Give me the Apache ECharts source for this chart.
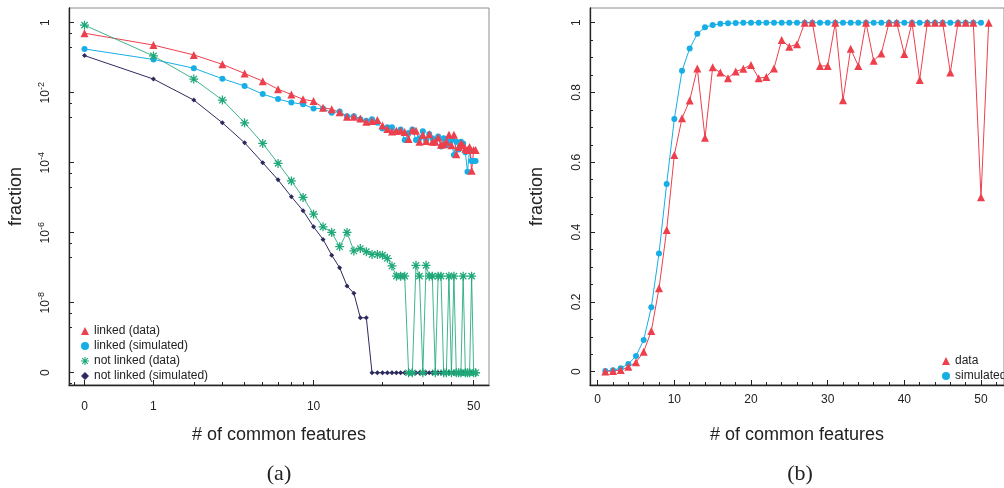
<!DOCTYPE html>
<html>
<head>
<meta charset="utf-8">
<script src="https://cdn.jsdelivr.net/npm/echarts@6/dist/echarts.min.js"></script>
<style>
  html, body { margin: 0; padding: 0; background: #fff; }
  #chart { width: 1004px; height: 488px; }
</style>
</head>
<body>
<div id="chart"></div>
<script>
// ---- panel (a): log10 of the fraction, null = fraction of 0 ----
var featuresA = [0, 1, 2, 3, 4, 5, 6, 7, 8, 9, 10, 11, 12, 13, 14, 15, 16, 17, 18, 19, 20,
  21, 22, 23, 24, 25, 26, 27, 28, 29, 30, 31, 32, 33, 34, 35, 36, 37, 38, 39, 40,
  41, 42, 43, 44, 45, 46, 47, 48, 49, 50];

var linkedDataExp = [-0.30, -0.64, -0.92, -1.19, -1.45, -1.67, -1.90, -2.05, -2.19, -2.24,
  -2.43, -2.47, -2.56, -2.69, -2.69, -2.74, -2.83, -2.81, -2.78, -2.94,
  -3.04, -3.11, -3.09, -3.09, -3.12, -3.32, -3.07, -3.09, -3.40, -3.21,
  -3.38, -3.19, -3.40, -3.40, -3.28, -3.49, -3.47, -3.40, -3.20, -3.50,
  -3.20, -3.76, -3.55, -3.45, -3.50, -3.60, -3.64, -3.55, -4.23, -3.64, -3.64];

var linkedSimExp = [-0.75, -1.05, -1.30, -1.60, -1.81, -2.04, -2.18, -2.28, -2.33, -2.45,
  -2.45, -2.57, -2.54, -2.67, -2.67, -2.76, -2.80, -2.76, -2.86, -3.02,
  -2.99, -2.99, -3.12, -3.05, -3.35, -3.15, -3.05, -3.35, -3.30, -3.10,
  -3.35, -3.18, -3.30, -3.35, -3.25, -3.54, -3.30, -3.50, -3.40, -3.35,
  -3.78, -3.40, -3.62, -3.40, -3.45, -3.70, -4.26, -3.62, -3.95, -3.95, -3.95];

var notLinkedDataExp = [-0.07, -0.95, -1.61, -2.21, -2.86, -3.45, -4.02, -4.52, -4.99, -5.47,
  -5.83, -5.99, -6.40, -5.99, -6.52, -6.45, -6.54, -6.62, -6.62, -6.64,
  -6.73, -6.95, -7.24, -7.24, -7.24, null, null, -6.93, -7.24, null,
  -6.93, -7.24, -7.24, null, -7.24, -7.24, null, null, -7.24, null,
  -7.24, null, null, null, -7.24, null, null, null, -7.24, null, null];

var notLinkedSimExp = [-0.94, -1.61, -2.21, -2.86, -3.43, -4.00, -4.49, -4.97, -5.37, -5.83,
  -6.19, -6.64, -7.00, -7.52, -7.73, -8.43, -8.43, null, null, null,
  null, null, null, null, null, null, null, null, null, null,
  null, null, null, null, null, null, null, null, null, null,
  null, null, null, null, null, null, null, null, null, null, null];

// ---- panel (b): fraction ----
var featuresB = [1, 2, 3, 4, 5, 6, 7, 8, 9, 10, 11, 12, 13, 14, 15, 16, 17, 18, 19, 20,
  21, 22, 23, 24, 25, 26, 27, 28, 29, 30, 31, 32, 33, 34, 35, 36, 37, 38, 39, 40,
  41, 42, 43, 44, 45, 46, 47, 48, 49, 50, 51];

var dataFrac = [0.001, 0.002, 0.005, 0.014, 0.027, 0.057, 0.117, 0.239, 0.406, 0.621,
  0.726, 0.777, 0.869, 0.670, 0.872, 0.857, 0.841, 0.860, 0.868, 0.879,
  0.841, 0.844, 0.869, 0.950, 0.931, 0.938, 1, 1, 0.876, 0.876,
  1, 0.778, 0.925, 0.876, 1, 0.891, 0.912, 1, 1, 0.910,
  1, 0.836, 1, 1, 1, 0.857, 1, 1, 1, 0.500, 1];

var simulatedFrac = [0.002, 0.004, 0.010, 0.022, 0.045, 0.091, 0.185, 0.339, 0.538, 0.724,
  0.862, 0.926, 0.968, 0.987, 0.993, 0.997, 0.998, 0.999, 1, 1,
  1, 1, 1, 1, 1, 1, 1, 1, 1, 1,
  1, 1, 1, 1, 1, 1, 1, 1, 1, 1,
  1, 1, 1, 1, 1, 1, 1, 1, 1, 1];

// ---- ticks ----
var aXTickAt = [1, 2, 10, 50];          // features + 1, on a log axis
var aXTickText = ['0', '1', '10', '50'];
var aXMinorAt = [0.9, 3, 4, 5, 6, 7, 8, 9, 20, 30, 40];
var aYTickExp = [0, -2, -4, -6, -8, -10];
var bXTicks = [0, 10, 20, 30, 40, 50];
var bXMinor = [-2, 2, 4, 6, 8, 12, 14, 16, 18, 22, 24, 26, 28, 32, 34, 36, 38, 42, 44, 46, 48, 52];
var bYTicks = [0, 0.2, 0.4, 0.6, 0.8, 1];
var bYMinor = [0.05, 0.1, 0.15, 0.25, 0.3, 0.35, 0.45, 0.5, 0.55, 0.65, 0.7, 0.75, 0.85, 0.9, 0.95];

var ZERO_EXP = -10;   // where a fraction of 0 is drawn
var RED = '#ee3f4c', BLUE = '#17aee6', GREEN = '#1fa878', NAVY = '#2d2b5e';
var INK = '#222';
var STAR = 'path://M0,4.3L10,4.3L10,5.7L0,5.7Z M4.3,0L5.7,0L5.7,10L4.3,10Z M1,2L2,1L9,8L8,9Z M8,1L9,2L2,9L1,8Z';

function toA(exps) {
  return exps.map(function (v, i) {
    return [Math.log10(featuresA[i] + 1), v === null ? ZERO_EXP : v];
  });
}
function toB(vals) {
  return vals.map(function (v, i) { return [featuresB[i], v]; });
}

var aYMinor = [];
aYTickExp.forEach(function (m) {
  aYMinor.push(m + Math.log10(0.5), m + Math.log10(0.2));
});

var lineAxis = { onZero: false, lineStyle: { color: INK, width: 1.3 } };
var noLine = { show: false, onZero: false };

function majorTick(vals) {
  return { inside: true, length: 5, customValues: vals, lineStyle: { color: INK, width: 1 } };
}
function minorTick(vals) {
  return { inside: true, length: 3, customValues: vals, lineStyle: { color: INK, width: 1 } };
}

var myChart = echarts.init(document.getElementById('chart'));

var option = {
  animation: false,
  textStyle: { fontFamily: 'Liberation Sans, Arial, sans-serif' },
  grid: [
    { left: 69, top: 8, width: 420, height: 377, show: true, borderColor: '#8c8c8c', borderWidth: 1 },
    { left: 590, top: 8, width: 420, height: 377, show: true, borderColor: '#8c8c8c', borderWidth: 1 }
  ],
  xAxis: [
    {
      type: 'value', gridIndex: 0, position: 'bottom', min: -0.0677, max: 1.766,
      axisLine: lineAxis, splitLine: { show: false },
      axisTick: majorTick(aXTickAt.map(function (k) { return Math.log10(k); })),
      axisLabel: {
        customValues: aXTickAt.map(function (k) { return Math.log10(k); }),
        fontSize: 12, color: INK, margin: 16,
        formatter: function (v) {
          for (var i = 0; i < aXTickAt.length; i++) {
            if (Math.abs(Math.log10(aXTickAt[i]) - v) < 1e-6) return aXTickText[i];
          }
          return '';
        }
      },
      name: '# of common features', nameLocation: 'middle', nameGap: 41,
      nameTextStyle: { fontSize: 18, color: INK }
    },
    {
      type: 'value', gridIndex: 0, position: 'bottom', min: -0.0677, max: 1.766,
      axisLine: noLine, splitLine: { show: false }, axisLabel: { show: false },
      axisTick: minorTick(aXMinorAt.map(function (k) { return Math.log10(k); }))
    },
    {
      type: 'value', gridIndex: 1, position: 'bottom', min: -1, max: 53,
      axisLine: lineAxis, splitLine: { show: false },
      axisTick: majorTick(bXTicks),
      axisLabel: { customValues: bXTicks, fontSize: 12, color: INK, margin: 9 },
      name: '# of common features', nameLocation: 'middle', nameGap: 41,
      nameTextStyle: { fontSize: 18, color: INK }
    },
    {
      type: 'value', gridIndex: 1, position: 'bottom', min: -1, max: 53,
      axisLine: noLine, splitLine: { show: false }, axisLabel: { show: false },
      axisTick: minorTick(bXMinor)
    }
  ],
  yAxis: [
    {
      type: 'value', gridIndex: 0, position: 'left', min: -10.35, max: 0.42,
      axisLine: lineAxis, splitLine: { show: false },
      axisTick: majorTick(aYTickExp),
      axisLabel: {
        customValues: aYTickExp, rotate: 90, margin: 14, color: INK,
        formatter: function (v) {
          if (v === 0) return '{b|1}';
          if (v === ZERO_EXP) return '{b|0}';
          return '{b|10}{s|' + v + '}';
        },
        rich: {
          b: { fontSize: 12, lineHeight: 18, color: INK, verticalAlign: 'middle' },
          s: { fontSize: 9, lineHeight: 10, color: INK, verticalAlign: 'top' }
        }
      },
      name: 'fraction', nameLocation: 'middle', nameRotate: 90, nameGap: 44,
      nameTextStyle: { fontSize: 18, color: INK }
    },
    {
      type: 'value', gridIndex: 0, position: 'left', min: -10.35, max: 0.42,
      axisLine: noLine, splitLine: { show: false }, axisLabel: { show: false },
      axisTick: minorTick(aYMinor)
    },
    {
      type: 'value', gridIndex: 1, position: 'left', min: -0.038, max: 1.042,
      axisLine: lineAxis, splitLine: { show: false },
      axisTick: majorTick(bYTicks),
      axisLabel: { customValues: bYTicks, rotate: 90, margin: 7, fontSize: 12, color: INK },
      name: 'fraction', nameLocation: 'middle', nameRotate: 90, nameGap: 44,
      nameTextStyle: { fontSize: 18, color: INK }
    },
    {
      type: 'value', gridIndex: 1, position: 'left', min: -0.038, max: 1.042,
      axisLine: noLine, splitLine: { show: false }, axisLabel: { show: false },
      axisTick: minorTick(bYMinor)
    }
  ],
  legend: [
    {
      orient: 'vertical', left: 76, top: 319, itemWidth: 8, itemHeight: 8, itemGap: 1,
      selectedMode: false,
      textStyle: { fontSize: 12, color: INK, lineHeight: 14 },
      data: [
        { name: 'linked (data)', icon: 'triangle' },
        { name: 'linked (simulated)', icon: 'circle' },
        { name: 'not linked (data)', icon: STAR },
        { name: 'not linked (simulated)', icon: 'diamond' }
      ]
    },
    {
      orient: 'vertical', left: 937, top: 349, itemWidth: 8, itemHeight: 8, itemGap: 1,
      selectedMode: false,
      textStyle: { fontSize: 12, color: INK, lineHeight: 14 },
      data: [
        { name: 'data', icon: 'triangle' },
        { name: 'simulated', icon: 'circle' }
      ]
    }
  ],
  graphic: [
    { type: 'text', x: 279, y: 474, style: { text: '(a)', font: '22px "Liberation Serif"', fill: INK, align: 'center', verticalAlign: 'middle' } },
    { type: 'text', x: 800, y: 474, style: { text: '(b)', font: '22px "Liberation Serif"', fill: INK, align: 'center', verticalAlign: 'middle' } }
  ],
  series: [
    {
      name: 'linked (simulated)', type: 'line', xAxisIndex: 0, yAxisIndex: 0,
      data: toA(linkedSimExp), symbol: 'circle', symbolSize: 6,
      itemStyle: { color: BLUE, borderWidth: 0 }, lineStyle: { color: BLUE, width: 1 },
      emphasis: { disabled: true }
    },
    {
      name: 'linked (data)', type: 'line', xAxisIndex: 0, yAxisIndex: 0,
      data: toA(linkedDataExp), symbol: 'triangle', symbolSize: 8,
      itemStyle: { color: RED, borderWidth: 0 }, lineStyle: { color: RED, width: 1 },
      emphasis: { disabled: true }
    },
    {
      name: 'not linked (simulated)', type: 'line', xAxisIndex: 0, yAxisIndex: 0,
      data: toA(notLinkedSimExp), symbol: 'diamond', symbolSize: 5,
      itemStyle: { color: NAVY, borderWidth: 0 }, lineStyle: { color: NAVY, width: 1 },
      emphasis: { disabled: true }
    },
    {
      name: 'not linked (data)', type: 'line', xAxisIndex: 0, yAxisIndex: 0,
      data: toA(notLinkedDataExp), symbol: STAR, symbolSize: 9,
      itemStyle: { color: GREEN, borderWidth: 0 }, lineStyle: { color: GREEN, width: 1, opacity: 0.85 },
      emphasis: { disabled: true }
    },
    {
      name: 'simulated', type: 'line', xAxisIndex: 2, yAxisIndex: 2,
      data: toB(simulatedFrac), symbol: 'circle', symbolSize: 6,
      itemStyle: { color: BLUE, borderWidth: 0 }, lineStyle: { color: BLUE, width: 1 },
      emphasis: { disabled: true }
    },
    {
      name: 'data', type: 'line', xAxisIndex: 2, yAxisIndex: 2,
      data: toB(dataFrac), symbol: 'triangle', symbolSize: 8,
      itemStyle: { color: RED, borderWidth: 0 }, lineStyle: { color: RED, width: 1 },
      emphasis: { disabled: true }
    }
  ]
};

myChart.setOption(option);
</script>
</body>
</html>
